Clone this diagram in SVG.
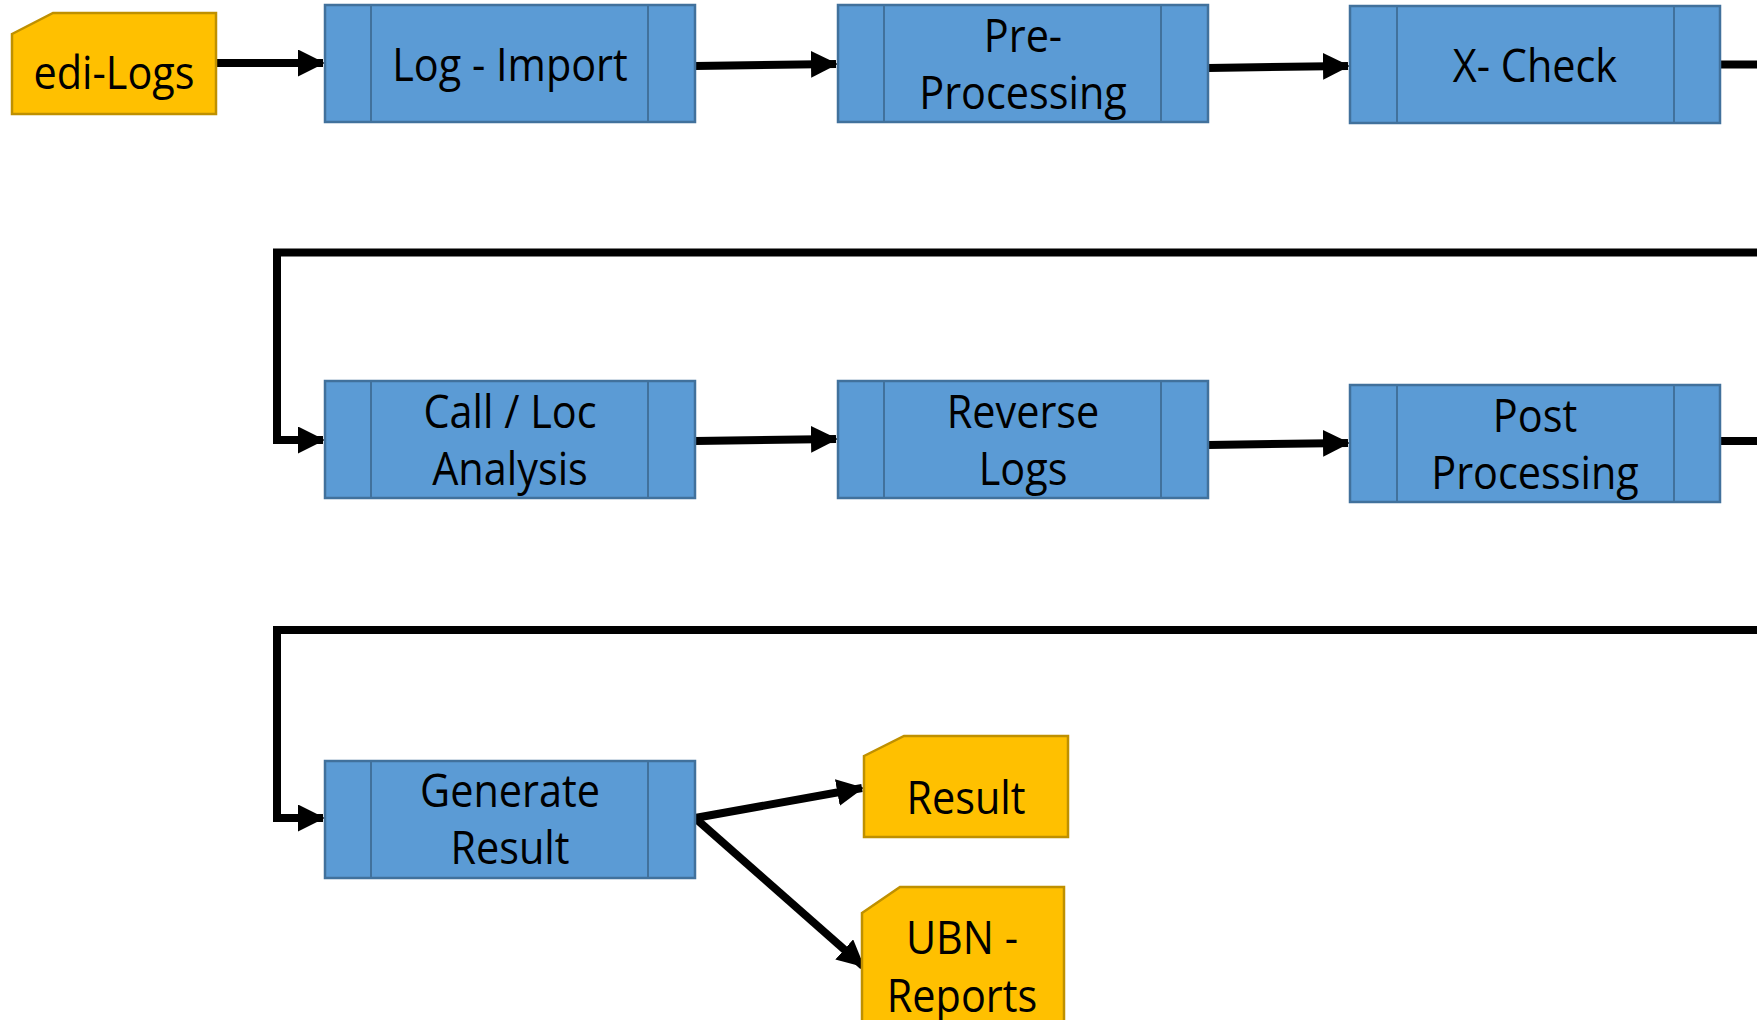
<svg xmlns="http://www.w3.org/2000/svg" width="1757" height="1020" viewBox="0 0 1757 1020">
<style>
.proc{fill:#5B9BD5;stroke:#41719C;stroke-width:2.5}
.band{fill:none;stroke:#41719C;stroke-width:2}
.doc{fill:#FFC000;stroke:#BF9000;stroke-width:2.5}
.t{font-family:"Open Sans","Noto Sans",sans-serif;font-size:46px;fill:#000;text-anchor:middle}
.c{fill:none;stroke:#000;stroke-width:8}
</style>
<defs>
<marker id="ah" markerUnits="userSpaceOnUse" markerWidth="27" markerHeight="27" viewBox="0 0 27 27" refX="25" refY="13.5" orient="auto">
<path d="M0,0 L27,13.5 L0,27 Z" fill="#000"/>
</marker>
</defs>
<g id="connectors">
<line class="c" x1="216" y1="63" x2="323" y2="63" marker-end="url(#ah)"/>
<line class="c" x1="695" y1="66" x2="836" y2="64" marker-end="url(#ah)"/>
<line class="c" x1="1208" y1="68" x2="1348" y2="66" marker-end="url(#ah)"/>
<line class="c" x1="1721" y1="64.5" x2="1757" y2="64.5"/>
<path class="c" d="M1757,252.5 H277 V440 H323" marker-end="url(#ah)"/>
<line class="c" x1="695" y1="441" x2="836" y2="439" marker-end="url(#ah)"/>
<line class="c" x1="1208" y1="445" x2="1348" y2="443" marker-end="url(#ah)"/>
<line class="c" x1="1721" y1="441" x2="1757" y2="441"/>
<path class="c" d="M1757,630 H277 V818 H323" marker-end="url(#ah)"/>
<line class="c" x1="695" y1="818" x2="862" y2="788" marker-end="url(#ah)"/>
<line class="c" x1="695" y1="818" x2="863" y2="966" marker-end="url(#ah)"/>
</g>
<g id="edi-logs">
<path class="doc" d="M12,34 L53,13 H216 V114 H12 Z"/>
<text class="t" transform="translate(114,89) scale(0.9,1)">edi-Logs</text>
</g>
<g id="log-import">
<rect class="proc" x="325" y="5" width="370" height="117"/>
<line class="band" x1="371" y1="5" x2="371" y2="122"/><line class="band" x1="648" y1="5" x2="648" y2="122"/>
<text class="t" transform="translate(510,81) scale(0.9,1)">Log - Import</text>
</g>
<g id="pre-processing">
<rect class="proc" x="838" y="5" width="370" height="117"/>
<line class="band" x1="884" y1="5" x2="884" y2="122"/><line class="band" x1="1161" y1="5" x2="1161" y2="122"/>
<text class="t" transform="translate(1023,52) scale(0.9,1)">Pre-</text>
<text class="t" transform="translate(1023,109) scale(0.9,1)">Processing</text>
</g>
<g id="x-check">
<rect class="proc" x="1350" y="6" width="370" height="117"/>
<line class="band" x1="1397" y1="6" x2="1397" y2="123"/><line class="band" x1="1674" y1="6" x2="1674" y2="123"/>
<text class="t" transform="translate(1535,82) scale(0.9,1)">X- Check</text>
</g>
<g id="call-loc">
<rect class="proc" x="325" y="381" width="370" height="117"/>
<line class="band" x1="371" y1="381" x2="371" y2="498"/><line class="band" x1="648" y1="381" x2="648" y2="498"/>
<text class="t" transform="translate(510,428) scale(0.9,1)">Call / Loc</text>
<text class="t" transform="translate(510,485) scale(0.9,1)">Analysis</text>
</g>
<g id="reverse-logs">
<rect class="proc" x="838" y="381" width="370" height="117"/>
<line class="band" x1="884" y1="381" x2="884" y2="498"/><line class="band" x1="1161" y1="381" x2="1161" y2="498"/>
<text class="t" transform="translate(1023,428) scale(0.9,1)">Reverse</text>
<text class="t" transform="translate(1023,485) scale(0.9,1)">Logs</text>
</g>
<g id="post-processing">
<rect class="proc" x="1350" y="385" width="370" height="117"/>
<line class="band" x1="1397" y1="385" x2="1397" y2="502"/><line class="band" x1="1674" y1="385" x2="1674" y2="502"/>
<text class="t" transform="translate(1535,432) scale(0.9,1)">Post</text>
<text class="t" transform="translate(1535,489) scale(0.9,1)">Processing</text>
</g>
<g id="generate-result">
<rect class="proc" x="325" y="761" width="370" height="117"/>
<line class="band" x1="371" y1="761" x2="371" y2="878"/><line class="band" x1="648" y1="761" x2="648" y2="878"/>
<text class="t" transform="translate(510,807) scale(0.9,1)">Generate</text>
<text class="t" transform="translate(510,864) scale(0.9,1)">Result</text>
</g>
<g id="result">
<path class="doc" d="M864,756 L904,736 H1068 V837 H864 Z"/>
<text class="t" transform="translate(966,814) scale(0.9,1)">Result</text>
</g>
<g id="ubn-reports">
<path class="doc" d="M862,913 L900,887 H1064 V1022 H862 Z"/>
<text class="t" transform="translate(962,954) scale(0.9,1)">UBN -</text>
<text class="t" transform="translate(962,1012) scale(0.9,1)">Reports</text>
</g>
</svg>
